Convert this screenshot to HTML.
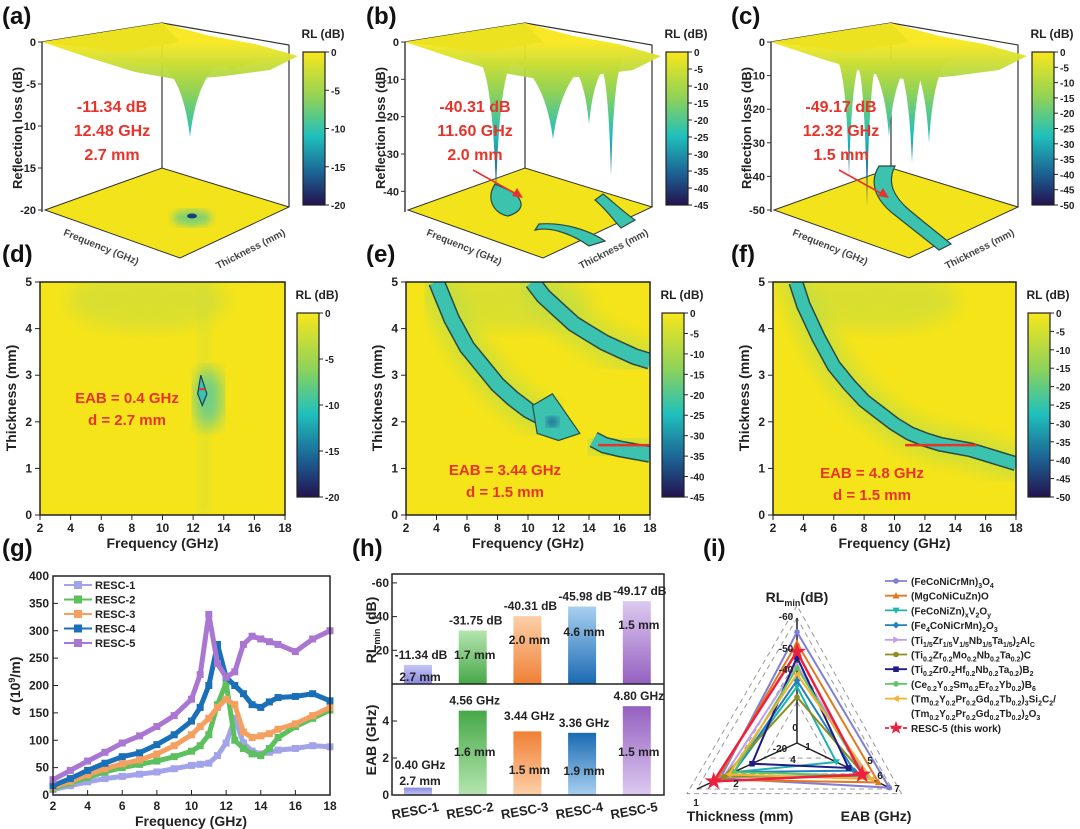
<!DOCTYPE html>
<html><head><meta charset="utf-8"><title>RL figure</title>
<style>
html,body{margin:0;padding:0;background:#fff;}
svg{display:block;font-family:"Liberation Sans",Arial,sans-serif;font-weight:bold;}
</style></head>
<body>
<svg id="fig" width="1080" height="829" viewBox="0 0 1080 829" xmlns="http://www.w3.org/2000/svg">
<defs>
<linearGradient id="cmap" x1="0" y1="0" x2="0" y2="1">
<stop offset="0" stop-color="#f8e71c"/><stop offset="0.3" stop-color="#8fd258"/><stop offset="0.55" stop-color="#1fc0bc"/><stop offset="0.8" stop-color="#1c5f92"/><stop offset="1" stop-color="#23124f"/>
</linearGradient>
<filter id="blur8"><feGaussianBlur stdDeviation="8"/></filter>
<filter id="blur4"><feGaussianBlur stdDeviation="4"/></filter>
<clipPath id="clipD"><rect x="40" y="282" width="245" height="233"/></clipPath>
<clipPath id="clipE"><rect x="406" y="282" width="244" height="233"/></clipPath>
<clipPath id="clipF"><rect x="773" y="282" width="243" height="233"/></clipPath>
</defs>
<g id="root"></g>
</svg>
<script>
// ---------- data ----------
const gFreq = [2,3,4,5,6,7,8,9,10,10.5,11,11.5,12,12.5,13,13.5,14,14.5,15,16,17,18];
const gResc1 = [10,17,24,30,34,38,42,48,54,56,58,72,95,140,95,80,75,78,82,85,90,88];
const gResc2 = [12,22,32,42,50,56,62,70,80,90,110,165,205,100,85,75,72,85,105,125,140,155];
const gResc3 = [14,25,37,48,57,64,75,90,110,125,140,160,175,165,115,105,108,112,120,130,145,160];
const gResc4 = [17,30,45,58,70,77,92,110,135,160,200,275,215,200,185,165,160,170,178,180,185,172];
const gResc5 = [28,45,62,78,95,108,125,145,175,220,330,240,215,225,275,290,285,280,275,262,285,300];
const gNames = ['RESC-1','RESC-2','RESC-3','RESC-4','RESC-5'];
const gYTicks = [0,50,100,150,200,250,300,350,400];
const gXTicks = [2,4,6,8,10,12,14,16,18];

const hCats = ['RESC-1','RESC-2','RESC-3','RESC-4','RESC-5'];
const hRL = [-11.34,-31.75,-40.31,-45.98,-49.17];
const hRLThick = ['2.7 mm','1.7 mm','2.0 mm','4.6 mm','1.5 mm'];
const hEAB = [0.40,4.56,3.44,3.36,4.80];
const hEABThick = ['2.7 mm','1.6 mm','1.5 mm','1.9 mm','1.5 mm'];
const hRLTicks = [-20,-40,-60];
const hEABTicks = [0,2,4];

const rNames = ['(FeCoNiCrMn)<tspan font-size="7" dy="3">3</tspan><tspan dy="-3">O</tspan><tspan font-size="7" dy="3">4</tspan>',
 '(MgCoNiCuZn)O',
 '(FeCoNiZn)<tspan font-size="7" dy="3">x</tspan><tspan dy="-3">V</tspan><tspan font-size="7" dy="3">2</tspan><tspan dy="-3">O</tspan><tspan font-size="7" dy="3">y</tspan>',
 '(Fe<tspan font-size="7" dy="3">4</tspan><tspan dy="-3">CoNiCrMn)</tspan><tspan font-size="7" dy="3">2</tspan><tspan dy="-3">O</tspan><tspan font-size="7" dy="3">3</tspan>',
 '(Ti<tspan font-size="7" dy="3">1/5</tspan><tspan dy="-3">Zr</tspan><tspan font-size="7" dy="3">1/5</tspan><tspan dy="-3">V</tspan><tspan font-size="7" dy="3">1/5</tspan><tspan dy="-3">Nb</tspan><tspan font-size="7" dy="3">1/5</tspan><tspan dy="-3">Ta</tspan><tspan font-size="7" dy="3">1/5</tspan><tspan dy="-3">)</tspan><tspan font-size="7" dy="3">2</tspan><tspan dy="-3">Al</tspan><tspan font-size="7" dy="3">C</tspan>',
 '(Ti<tspan font-size="7" dy="3">0.2</tspan><tspan dy="-3">Zr</tspan><tspan font-size="7" dy="3">0.2</tspan><tspan dy="-3">Mo</tspan><tspan font-size="7" dy="3">0.2</tspan><tspan dy="-3">Nb</tspan><tspan font-size="7" dy="3">0.2</tspan><tspan dy="-3">Ta</tspan><tspan font-size="7" dy="3">0.2</tspan><tspan dy="-3">)C</tspan>',
 '(Ti<tspan font-size="7" dy="3">0.2</tspan><tspan dy="-3">Zr0.</tspan><tspan font-size="7" dy="3">2</tspan><tspan dy="-3">Hf</tspan><tspan font-size="7" dy="3">0.2</tspan><tspan dy="-3">Nb</tspan><tspan font-size="7" dy="3">0.2</tspan><tspan dy="-3">Ta</tspan><tspan font-size="7" dy="3">0.2</tspan><tspan dy="-3">)B</tspan><tspan font-size="7" dy="3">2</tspan>',
 '(Ce<tspan font-size="7" dy="3">0.2</tspan><tspan dy="-3">Y</tspan><tspan font-size="7" dy="3">0.2</tspan><tspan dy="-3">Sm</tspan><tspan font-size="7" dy="3">0.2</tspan><tspan dy="-3">Er</tspan><tspan font-size="7" dy="3">0.2</tspan><tspan dy="-3">Yb</tspan><tspan font-size="7" dy="3">0.2</tspan><tspan dy="-3">)B</tspan><tspan font-size="7" dy="3">6</tspan>',
 '(Tm<tspan font-size="7" dy="3">0.2</tspan><tspan dy="-3">Y</tspan><tspan font-size="7" dy="3">0.2</tspan><tspan dy="-3">Pr</tspan><tspan font-size="7" dy="3">0.2</tspan><tspan dy="-3">Gd</tspan><tspan font-size="7" dy="3">0.2</tspan><tspan dy="-3">Tb</tspan><tspan font-size="7" dy="3">0.2</tspan><tspan dy="-3">)</tspan><tspan font-size="7" dy="3">3</tspan><tspan dy="-3">Si</tspan><tspan font-size="7" dy="3">2</tspan><tspan dy="-3">C</tspan><tspan font-size="7" dy="3">2</tspan><tspan dy="-3">/</tspan>',
 'RESC-5 (this work)'];
const rRL = [-55.5,-52,-38,-40,-45,-34.7,-47.5,-44,-42,-49.17];
const rThick = [1.7,1.6,2.1,2.1,1.8,1.8,2.65,2.1,1.95,1.5];
const rEAB = [6.8,6.0,2.9,4.2,5.2,5.0,3.8,5.0,5.5,4.8];

const eBand1F = [4.0,4.5,5,6,7,8,9,10,11,11.6];
const eBand1T = [5,4.6,4.2,3.6,3.2,2.8,2.5,2.25,2.08,2.0];
const eBand2F = [14.3,15,16,17,18];
const eBand2T = [1.62,1.5,1.42,1.36,1.3];
const eBand3F = [10.3,11,12,13,14,15,16,17,18];
const eBand3T = [5,4.7,4.4,4.1,3.9,3.7,3.55,3.4,3.3];
const fBandF = [3.5,4,5,6,7,8,9,10,11,12,13,14,15,16,17,18];
const fBandT = [5,4.5,3.8,3.2,2.8,2.45,2.2,1.95,1.75,1.62,1.52,1.46,1.4,1.3,1.2,1.1];

// ---------- helpers ----------
const NS='http://www.w3.org/2000/svg';
const root=document.getElementById('root');
function el(tag,attrs,parent,name){
  const e=document.createElementNS(NS,tag);
  for(const k in attrs) e.setAttribute(k,attrs[k]);
  
  
  (parent||root).appendChild(e);
  return e;
}
function txt(x,y,s,size,parent,name,extra){
  const a=Object.assign({x:x,y:y,'font-size':size,fill:'#222'},extra||{});
  const t=el('text',a,parent,name);
  t.innerHTML=s;
  return t;
}
const RED='#e8332a';

// ---------- panel labels ----------
[['(a)',2,24],['(b)',366,24],['(c)',731,24],['(d)',2,262],['(e)',366,262],['(f)',731,262],['(g)',2,556],['(h)',352,556],['(i)',703,556]].forEach(p=>{
  txt(p[1],p[2],p[0],24,root,'panel-label-'+p[0].replace(/[()]/g,''),{fill:'#111'});
});

// ---------- colorbar ----------
function colorbar(x,y0,y1,ticks,parent,name){
  const g=el('g',{},parent,name);
  el('rect',{x:x,y:y0,width:22,height:y1-y0,fill:'url(#cmap)',stroke:'#222','stroke-width':1.2},g,'colorbar-gradient');
  ticks.forEach((v,i)=>{
    const yy=y0+(y1-y0)*i/(ticks.length-1);
    el('line',{x1:x+22,x2:x+26,y1:yy,y2:yy,stroke:'#222','stroke-width':1},g,'colorbar-tick');
    txt(x+28,yy+4,String(v),10,g,'colorbar-tick-label');
  });
  txt(x+20,y0-14,'RL (dB)',12,g,'colorbar-title',{'text-anchor':'middle'});
}

// ---------- 3D panels ----------
const p3 = [
 {ox:0, zt:[0,-5,-10,-15,-20], zmin:-20, cb:[0,-5,-10,-15,-20], ann:['-11.34 dB','12.48 GHz','2.7 mm'],
  dipX:[190,150,232], dipD:[-11.3,-2.5,-3.5], dipW:[22,20,24]},
 {ox:363, zt:[0,-10,-20,-30,-40], zmin:-45, cb:[0,-5,-10,-15,-20,-25,-30,-35,-40,-45], ann:['-40.31 dB','11.60 GHz','2.0 mm'],
  dipX:[133,190,226,248], dipD:[-40,-26,-22,-36], dipW:[10,26,14,7]},
 {ox:729, zt:[0,-10,-20,-30,-40,-50], zmin:-50, cb:[0,-5,-10,-15,-20,-25,-30,-35,-40,-45,-50], ann:['-49.17 dB','12.32 GHz','1.5 mm'],
  dipX:[120,138,160,183,200], dipD:[-40,-49,-28,-36,-30], dipW:[7,6,15,10,12]}
];
p3.forEach((p,pi)=>{
  const g=el('g',{transform:'translate('+p.ox+',0)'},root,'3d-surface-panel-'+'abc'[pi]);
  const z=v=>42+(v/p.zmin)*168;
  const gid='sg'+pi;
  const lg=el('linearGradient',{id:gid,gradientUnits:'userSpaceOnUse',x1:0,y1:42,x2:0,y2:210},g,'surface-gradient');
  [['0','#f8e71c'],['0.3','#8fd258'],['0.55','#1fc0bc'],['0.8','#1c5f92'],['1','#23124f']].forEach(s=>el('stop',{offset:s[0],'stop-color':s[1]},lg,'gradient-stop'));
  el('polygon',{points:'45,210 162,168 289,207 180,258',fill:'#f3e31b',stroke:'#333','stroke-width':1},g,'floor-projection');
  el('polyline',{points:'162,23 162,168',fill:'none',stroke:'#333','stroke-width':1.2},g,'back-edge');
  el('polyline',{points:'42,42 162,23 289,45 289,207',fill:'none',stroke:'#333','stroke-width':1.2},g,'top-frame');
  el('line',{x1:42,y1:42,x2:42,y2:212,stroke:'#333','stroke-width':1.4},g,'z-axis-line');
  p.zt.forEach(v=>{
    el('line',{x1:38,x2:42,y1:z(v),y2:z(v),stroke:'#333'},g,'z-tick');
    txt(36,z(v)+4,String(v),11,g,'z-tick-label',{'text-anchor':'end'});
  });
  txt(0,0,'Reflection loss (dB)',13,g,'z-axis-title',{'text-anchor':'middle',transform:'translate(22,128) rotate(-90)'});
  txt(0,0,'Frequency (GHz)',10,g,'frequency-axis-title',{'text-anchor':'middle',transform:'translate(100,250) rotate(22)',fill:'#444'});
  txt(0,0,'Thickness (mm)',10,g,'thickness-axis-title',{'text-anchor':'middle',transform:'translate(252,252) rotate(-27)',fill:'#444'});
  if(pi===0){ el('ellipse',{cx:192,cy:218,rx:20,ry:8,fill:'#2fc3b0',opacity:0.6,filter:'url(#blur4)'},g,'floor-minimum-spot');
              el('ellipse',{cx:192,cy:216,rx:5,ry:2.5,fill:'#1a3f70'},g,'floor-minimum-core'); }
  if(pi===1){ el('path',{d:'M132,184 C122,200 132,214 145,216 C158,212 164,204 150,192 Z',fill:'#3cc3b0',stroke:'#2a4a40','stroke-width':1.2},g,'floor-contour');
              el('path',{d:'M172,230 C190,226 212,236 226,246 L242,241 C226,230 200,222 176,224 Z',fill:'#3cc3b0',stroke:'#2a4a40','stroke-width':1.2},g,'floor-contour');
              el('path',{d:'M232,200 C244,210 252,222 258,228 L272,220 C258,210 248,200 240,194 Z',fill:'#3cc3b0',stroke:'#2a4a40','stroke-width':1.2},g,'floor-contour'); }
  if(pi===2){ el('path',{d:'M150,166 C140,182 146,198 162,212 C182,228 200,242 210,250 L222,244 C210,234 192,220 178,208 C164,195 158,182 166,166 Z',fill:'#3cc3b0',stroke:'#2a4a40','stroke-width':1.2},g,'floor-contour-band'); }
  // sheet
  el('polygon',{points:'42,42 162,23 210,36 255,44 298,56 270,70 225,76 180,80 135,72 90,58',fill:'url(#'+gid+')',opacity:0.95},g,'surface-sheet');
  el('polygon',{points:'42,42 162,23 180,42 120,52',fill:'#ede21f'},g,'surface-sheet-front');
  p.dipX.forEach((x,i)=>{
    const yb=z(p.dipD[i]), w=p.dipW[i], yt=58;
    el('path',{d:'M'+(x-w*2)+','+yt+' Q'+(x-w*0.4)+','+(yt+5)+' '+x+','+yb+' Q'+(x+w*0.4)+','+(yt+5)+' '+(x+w*2)+','+yt+' Z',fill:'url(#'+gid+')'},g,'surface-dip');
  });
  colorbar(303,52,205,p.cb,g,'colorbar-'+'abc'[pi]);
  p.ann.forEach((s,i)=>txt(112,112+i*24,s,16,g,'minimum-annotation',{'text-anchor':'middle',fill:RED}));
  if(pi>0){
    el('line',{x1:110,y1:170,x2:155,y2:195,stroke:RED,'stroke-width':1.6},g,'annotation-arrow');
    el('polygon',{points:'160,198 149,196 154,188',fill:RED},g,'annotation-arrowhead');
  }
});

// ---------- heatmaps ----------
const hm=[{L:40,R:285,cb:[0,-5,-10,-15,-20],clip:'clipD',ann:['EAB = 0.4 GHz','d = 2.7 mm'],ax:127,ay:403},
          {L:406,R:650,cb:[0,-5,-10,-15,-20,-25,-30,-35,-40,-45],clip:'clipE',ann:['EAB = 3.44 GHz','d = 1.5 mm'],ax:505,ay:475},
          {L:773,R:1016,cb:[0,-5,-10,-15,-20,-25,-30,-35,-40,-45,-50],clip:'clipF',ann:['EAB = 4.8 GHz','d = 1.5 mm'],ax:872,ay:478}];
hm.forEach((p,pi)=>{
  const g=el('g',{},root,'heatmap-panel-'+'def'[pi]);
  const X=f=>p.L+(f-2)/16*(p.R-p.L), Y=t=>515-t/5*233;
  const c=el('g',{'clip-path':'url(#'+p.clip+')'},g,'heatmap-area');
  el('rect',{x:p.L,y:282,width:p.R-p.L,height:233,fill:'#f5e41a'},c,'heatmap-background');
  el('ellipse',{cx:X(9),cy:Y(4.6),rx:80,ry:30,fill:'#c9dc3c',opacity:0.6,filter:'url(#blur8)'},c,'heatmap-shade');
  function band(F,T,w){
    const d=F.map((f,i)=>(i?'L':'M')+X(f).toFixed(1)+','+Y(T[i]).toFixed(1)).join(' ');
    el('path',{d:d,fill:'none',stroke:'#b8dc48','stroke-width':w+22,opacity:0.6,filter:'url(#blur8)','stroke-linecap':'round'},c,'band-halo');
    el('path',{d:d,fill:'none',stroke:'#2a4a40','stroke-width':w+3},c,'band-contour');
    el('path',{d:d,fill:'none',stroke:'#3cc3b0','stroke-width':w},c,'band-fill');
  }
  if(pi===0){
    el('rect',{x:X(12.3),y:282,width:X(13.2)-X(12.3),height:233,fill:'#c8de40',opacity:0.3,filter:'url(#blur4)'},c,'heatmap-ridge');
    el('ellipse',{cx:X(13),cy:Y(2.5),rx:14,ry:30,fill:'#30c4b8',opacity:0.7,filter:'url(#blur8)'},c,'heatmap-minimum-glow');
    el('path',{d:'M'+X(12.5)+','+Y(3.0)+' L'+X(12.9)+','+Y(2.6)+' L'+X(12.6)+','+Y(2.35)+' L'+X(12.3)+','+Y(2.6)+' Z',fill:'#3cc3b0',stroke:'#1d3c5a','stroke-width':1.2},c,'heatmap-contour');
    el('line',{x1:X(12.4),x2:X(12.8),y1:Y(2.7),y2:Y(2.7),stroke:RED,'stroke-width':2},c,'eab-line');
  }
  if(pi===1){
    band(eBand1F,eBand1T,14); band(eBand2F,eBand2T,14); band(eBand3F,eBand3T,14);
    el('path',{d:'M'+X(10.3)+','+Y(2.35)+' L'+X(11.6)+','+Y(2.6)+' L'+X(13.4)+','+Y(1.75)+' L'+X(12)+','+Y(1.6)+' L'+X(10.6)+','+Y(1.75)+' Z',fill:'#3cc3b0',stroke:'#2a4a40','stroke-width':1.2},c,'heatmap-contour-blob');
    el('ellipse',{cx:X(11.6),cy:Y(2.0),rx:6,ry:5,fill:'#1c5f92',filter:'url(#blur4)'},c,'heatmap-minimum');
    el('line',{x1:X(14.6),x2:X(18),y1:Y(1.5),y2:Y(1.5),stroke:RED,'stroke-width':2.5},c,'eab-line');
  }
  if(pi===2){
    band(fBandF,fBandT,12);
    el('line',{x1:X(10.7),x2:X(15.4),y1:Y(1.5),y2:Y(1.5),stroke:RED,'stroke-width':2.5},c,'eab-line');
  }
  el('rect',{x:p.L,y:282,width:p.R-p.L,height:233,fill:'none',stroke:'#222','stroke-width':1.5},g,'plot-frame');
  [2,4,6,8,10,12,14,16,18].forEach(f=>{
    el('line',{x1:X(f),x2:X(f),y1:515,y2:520,stroke:'#222'},g,'x-tick');
    txt(X(f),532,String(f),12,g,'x-tick-label',{'text-anchor':'middle'});
  });
  [0,1,2,3,4,5].forEach(t=>{
    el('line',{x1:p.L-5,x2:p.L,y1:Y(t),y2:Y(t),stroke:'#222'},g,'y-tick');
    txt(p.L-8,Y(t)+4,String(t),12,g,'y-tick-label',{'text-anchor':'end'});
  });
  txt((p.L+p.R)/2,548,'Frequency (GHz)',14,g,'x-axis-title',{'text-anchor':'middle'});
  txt(0,0,'Thickness (mm)',14,g,'y-axis-title',{'text-anchor':'middle',transform:'translate('+(p.L-24)+',398) rotate(-90)'});
  p.ann.forEach((s,i)=>txt(p.ax,p.ay+i*22,s,15,g,'eab-annotation',{'text-anchor':'middle',fill:RED}));
  colorbar(p.R+12,313,497,p.cb,g,'colorbar-'+'def'[pi]);
});

// ---------- (g) ----------
(function(){
  const g=el('g',{},root,'attenuation-chart');
  const X=f=>53+(f-2)/16*277, Y=v=>795-v/400*219;
  const series=[gResc1,gResc2,gResc3,gResc4,gResc5];
  const cols=['#a3a3ea','#5cc05c','#f5a060','#1a70b8','#a977d2'];
  series.forEach((s,si)=>{
    const pts=gFreq.map((f,i)=>X(f).toFixed(1)+','+Y(s[i]).toFixed(1)).join(' ');
    el('polyline',{points:pts,fill:'none',stroke:cols[si],'stroke-width':5,'stroke-linejoin':'round'},g,'series-'+gNames[si].toLowerCase());
    gFreq.forEach((f,i)=>{ el('rect',{x:X(f)-3.5,y:Y(s[i])-3.5,width:7,height:7,fill:cols[si]},g,'data-point'); });
    const ly=585+si*14.5;
    el('line',{x1:64,x2:92,y1:ly,y2:ly,stroke:cols[si],'stroke-width':2},g,'legend-line');
    el('rect',{x:74,y:ly-4,width:8,height:8,fill:cols[si]},g,'legend-marker');
    txt(95,ly+4,gNames[si],11,g,'legend-entry');
  });
  el('rect',{x:53,y:576,width:277,height:219,fill:'none',stroke:'#222','stroke-width':1.5},g,'plot-frame');
  gXTicks.forEach(f=>{ el('line',{x1:X(f),x2:X(f),y1:795,y2:790,stroke:'#222'},g,'x-tick');
    txt(X(f),810,String(f),12,g,'x-tick-label',{'text-anchor':'middle'}); });
  gYTicks.forEach(v=>{ el('line',{x1:53,x2:58,y1:Y(v),y2:Y(v),stroke:'#222'},g,'y-tick');
    txt(49,Y(v)+4,String(v),12,g,'y-tick-label',{'text-anchor':'end'}); });
  txt(191,826,'Frequency (GHz)',14,g,'x-axis-title',{'text-anchor':'middle'});
  txt(0,0,'<tspan font-style="italic">α</tspan> (10<tspan font-size="9" dy="-5">9</tspan><tspan dy="5">/m)</tspan>',14,g,'y-axis-title',{'text-anchor':'middle',transform:'translate(20,686) rotate(-90)'});
})();

// ---------- (h) ----------
(function(){
  const g=el('g',{},root,'bar-chart-rl-eab');
  const cx=i=>418+i*54.7, bw=28;
  const Yt=v=>684-Math.abs(v)/20*33.7, Yb=v=>795-v*18.5;
  const eabValY=[765,701,716,725,697], eabThY=[781,752,770,771,752];
  const rlThY=[677,655,640,632,625];
  const cols=[['#c5c5f5','#8888e0'],['#b5e5b0','#47a847'],['#fcd0a8','#f08035'],['#a8d0f0','#1a6ab3'],['#dccaf0','#9560c0']];
  hCats.forEach((c,i)=>{
    const gid='hg'+i, gid2='hb'+i;
    const l1=el('linearGradient',{id:gid,x1:0,y1:0,x2:0,y2:1},g,'bar-gradient');
    el('stop',{offset:0,'stop-color':cols[i][0]},l1,'gradient-stop'); el('stop',{offset:1,'stop-color':cols[i][1]},l1,'gradient-stop');
    const l2=el('linearGradient',{id:gid2,x1:0,y1:0,x2:0,y2:1},g,'bar-gradient');
    el('stop',{offset:0,'stop-color':cols[i][1]},l2,'gradient-stop'); el('stop',{offset:1,'stop-color':cols[i][0]},l2,'gradient-stop');
    const yt=Yt(hRL[i]);
    el('rect',{x:cx(i)-bw/2,y:yt,width:bw,height:684-yt,fill:'url(#'+gid+')'},g,'bar-rlmin-'+c.toLowerCase());
    const yb=Yb(hEAB[i]);
    el('rect',{x:cx(i)-bw/2,y:yb,width:bw,height:795-yb,fill:'url(#'+gid2+')'},g,'bar-eab-'+c.toLowerCase());
    txt(cx(i)+3,yt-6,hRL[i].toFixed(2)+' dB',12,g,'rlmin-value-label',{'text-anchor':'middle'});
    txt(cx(i)+2,rlThY[i]+4,hRLThick[i],12,g,'rlmin-thickness-label',{'text-anchor':'middle'});
    txt(cx(i)+2,Math.min(yb-6,eabValY[i]+4),hEAB[i].toFixed(2)+' GHz',12,g,'eab-value-label',{'text-anchor':'middle'});
    txt(cx(i)+2,eabThY[i]+4,hEABThick[i],12,g,'eab-thickness-label',{'text-anchor':'middle'});
    txt(0,0,c,13,g,'category-label',{'text-anchor':'middle',transform:'translate('+(cx(i)-2)+',815) rotate(-10)'});
  });
  el('rect',{x:392,y:574,width:272,height:221,fill:'none',stroke:'#222','stroke-width':1.5},g,'plot-frame');
  el('line',{x1:392,x2:664,y1:684,y2:684,stroke:'#222','stroke-width':1.5},g,'panel-divider');
  hRLTicks.forEach(v=>{ el('line',{x1:392,x2:397,y1:Yt(v),y2:Yt(v),stroke:'#222'},g,'y-tick');
    txt(389,Yt(v)+4,String(v),12,g,'y-tick-label',{'text-anchor':'end'}); });
  hEABTicks.forEach(v=>{ el('line',{x1:392,x2:397,y1:Yb(v),y2:Yb(v),stroke:'#222'},g,'y-tick');
    txt(389,Yb(v)+4,String(v),12,g,'y-tick-label',{'text-anchor':'end'}); });
  txt(0,0,'RL<tspan font-size="9" dy="4">min</tspan><tspan dy="-4"> (dB)</tspan>',14,g,'y-axis-title-rlmin',{'text-anchor':'middle',transform:'translate(376,630) rotate(-90)'});
  txt(0,0,'EAB (GHz)',14,g,'y-axis-title-eab',{'text-anchor':'middle',transform:'translate(376,740) rotate(-90)'});
})();

// ---------- (i) radar ----------
(function(){
  const g=el('g',{},root,'radar-chart');
  const C=[797,743], vt=[0,-125], vl=[-100,46], vr=[95,46];
  const fRL=v=>(Math.abs(v)-20)/40, fT=v=>(4-v)/3, fE=v=>v/7;
  const P=(v,f)=>[C[0]+v[0]*f,C[1]+v[1]*f];
  [0.33,0.67,1.0,1.1].forEach(f=>{
    const a=P(vt,f),b=P(vl,f),c=P(vr,f);
    el('polygon',{points:a+' '+b+' '+c,fill:'none',stroke:'#999','stroke-width':1,'stroke-dasharray':'5,4'},g,'radar-grid');
  });
  [vt,vl,vr].forEach(v=>{ const e=P(v,1.0); el('line',{x1:C[0],y1:C[1],x2:e[0],y2:e[1],stroke:'#222','stroke-width':1.5},g,'radar-axis'); });
  const cols=['#7f7fd5','#e07a20','#20b2b0','#2080c0','#c0a0e8','#8d8d20','#1d1d8a','#62c462','#f2b232','#ee2040'];
  const marks=['circle','tri-up','tri-down','diamond','tri-right','circle','square','circle','tri-left','star'];
  function marker(x,y,type,col,s,name){
    let e;
    if(type==='circle') e=el('circle',{cx:x,cy:y,r:s*0.8,fill:col},g,name);
    else if(type==='square') e=el('rect',{x:x-s*0.8,y:y-s*0.8,width:s*1.6,height:s*1.6,fill:col},g,name);
    else if(type==='diamond') e=el('polygon',{points:[x,y-s,x+s,y,x,y+s,x-s,y].join(' '),fill:col},g,name);
    else if(type==='tri-up') e=el('polygon',{points:[x,y-s,x+s,y+s*0.8,x-s,y+s*0.8].join(' '),fill:col},g,name);
    else if(type==='tri-down') e=el('polygon',{points:[x,y+s,x+s,y-s*0.8,x-s,y-s*0.8].join(' '),fill:col},g,name);
    else if(type==='tri-right') e=el('polygon',{points:[x+s,y,x-s*0.8,y-s,x-s*0.8,y+s].join(' '),fill:col},g,name);
    else if(type==='tri-left') e=el('polygon',{points:[x-s,y,x+s*0.8,y-s,x+s*0.8,y+s].join(' '),fill:col},g,name);
    else { const pts=[]; for(let k=0;k<10;k++){const r=k%2?s*0.45:s*1.2, a=-Math.PI/2+k*Math.PI/5; pts.push((x+r*Math.cos(a)).toFixed(1)+','+(y+r*Math.sin(a)).toFixed(1));}
      e=el('polygon',{points:pts.join(' '),fill:col},g,name); }
    return e;
  }
  rRL.forEach((v,i)=>{
    const a=P(vt,fRL(v)), b=P(vl,fT(rThick[i])), c=P(vr,fE(rEAB[i]));
    el('polygon',{points:a+' '+b+' '+c,fill:'none',stroke:cols[i],'stroke-width':i===9?2.5:2},g,'radar-series-'+i);
    const s=i===9?8:3.5;
    [a,b,c].forEach(p=>marker(p[0],p[1],marks[i],cols[i],s,'radar-point'));
    const ly=581+i*14.7+(i===9?14.7:0);
    el('line',{x1:885,x2:907,y1:ly,y2:ly,stroke:cols[i],'stroke-width':1.8,'stroke-dasharray':i===9?'4,2':'none'},g,'legend-line');
    marker(896,ly,marks[i],cols[i],i===9?6:3.5,'legend-marker');
    txt(911,ly+4,rNames[i],10,g,'legend-entry');
  });
  txt(911,717,'(Tm<tspan font-size="7" dy="3">0.2</tspan><tspan dy="-3">Y</tspan><tspan font-size="7" dy="3">0.2</tspan><tspan dy="-3">Pr</tspan><tspan font-size="7" dy="3">0.2</tspan><tspan dy="-3">Gd</tspan><tspan font-size="7" dy="3">0.2</tspan><tspan dy="-3">Tb</tspan><tspan font-size="7" dy="3">0.2</tspan><tspan dy="-3">)</tspan><tspan font-size="7" dy="3">2</tspan><tspan dy="-3">O</tspan><tspan font-size="7" dy="3">3</tspan>',10,g,'legend-entry-continued');
  txt(797,602,'RL<tspan font-size="9" dy="4">min</tspan><tspan dy="-4">(dB)</tspan>',14,g,'radar-axis-title-rlmin',{'text-anchor':'middle'});
  txt(740,821,'Thickness (mm)',14,g,'radar-axis-title-thickness',{'text-anchor':'middle'});
  txt(876,821,'EAB (GHz)',14,g,'radar-axis-title-eab',{'text-anchor':'middle'});
  [['-60',786,620],['-50',786,652],['-40',786,673],['-20',780,752],['0',795,731],['1',808,750],['4',793,763],['2',736,787],['1',696,806],['5',870,764],['6',880,779],['7',897,792]].forEach(t=>txt(t[1],t[2],t[0],10,g,'radar-tick-label',{'text-anchor':'middle'}));
})();
</script>
</body></html>
